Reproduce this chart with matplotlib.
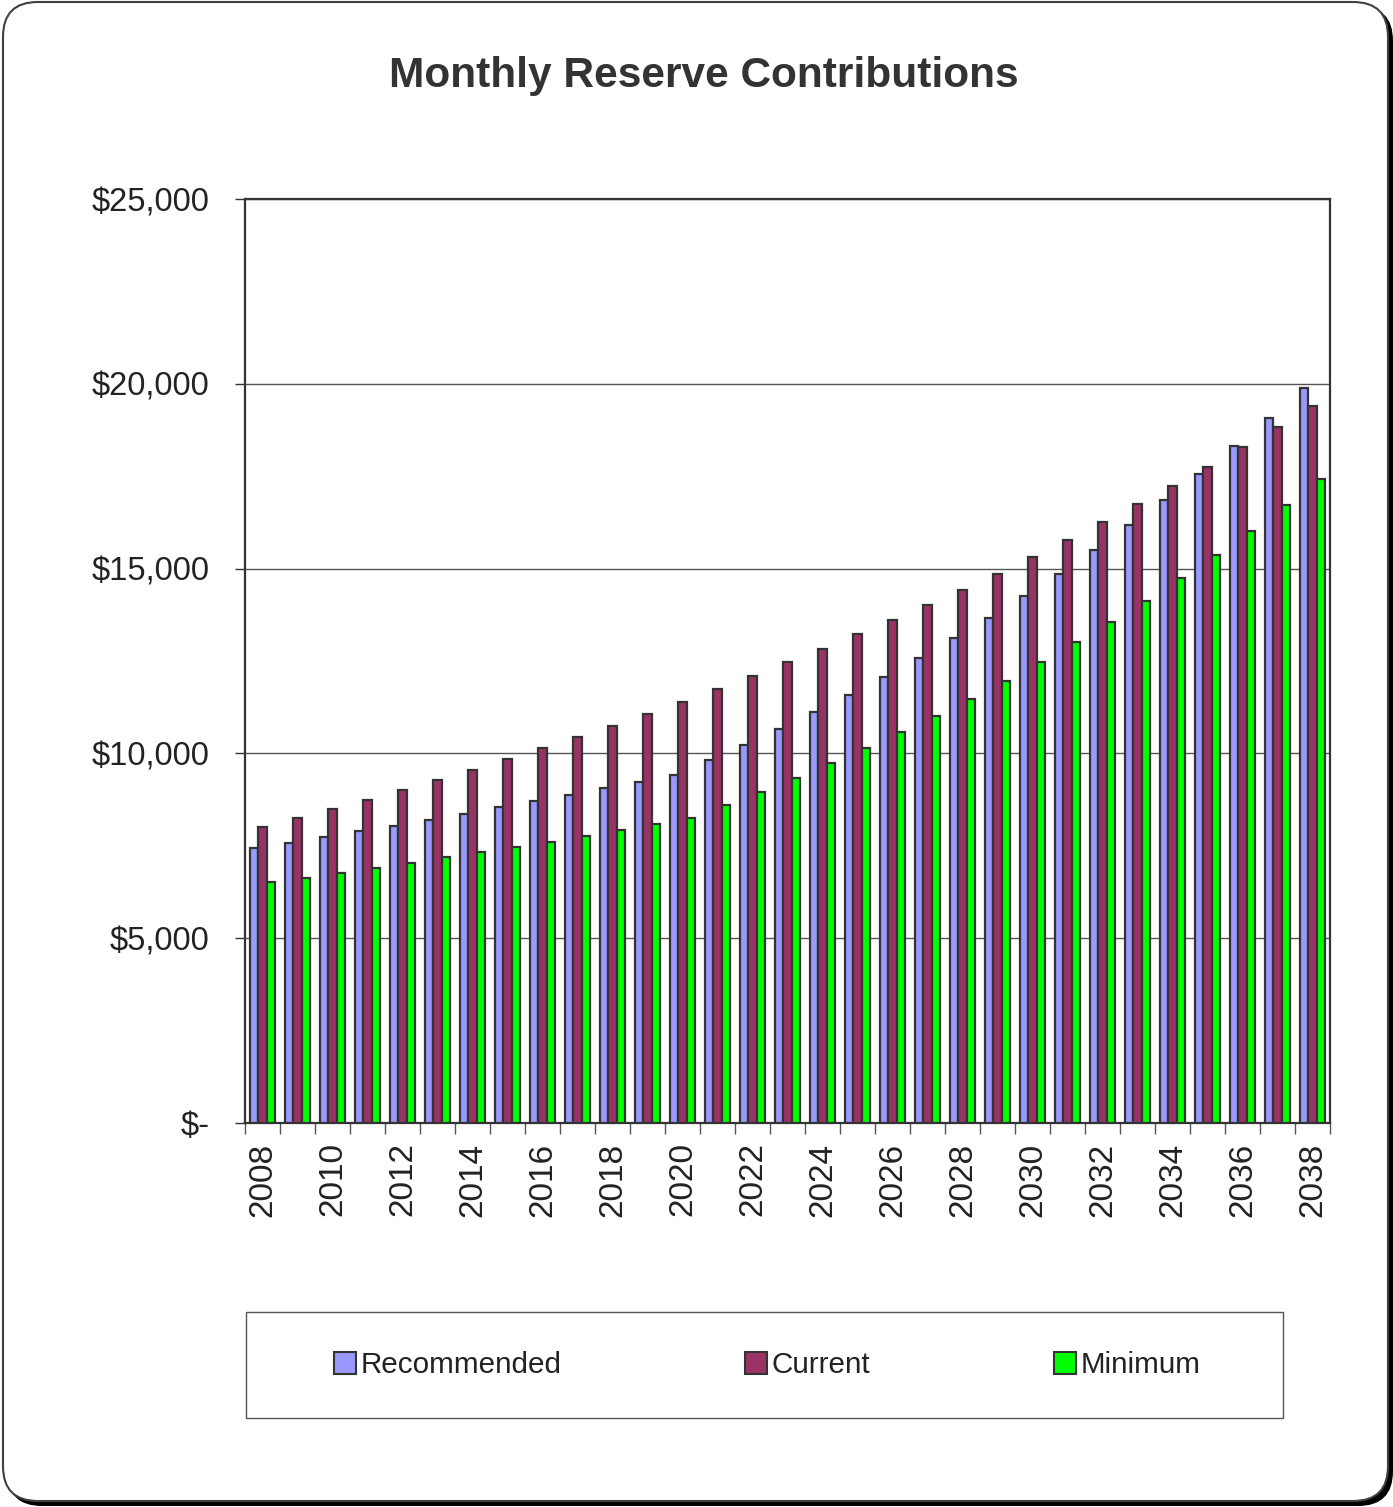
import matplotlib
matplotlib.use("Agg")
import matplotlib.pyplot as plt
from matplotlib.patches import FancyBboxPatch, Rectangle, Patch
import numpy as np

plt.rcParams['font.family'] = ['Liberation Sans', 'DejaVu Sans']

years = list(range(2008, 2039))
recommended = [7440, 7576, 7738, 7900, 8036, 8198, 8360, 8550, 8712, 8874,
               9064, 9226, 9416, 9821, 10227, 10660, 11120, 11580, 12067, 12581,
               13122, 13663, 14259, 14854, 15503, 16180, 16856, 17560, 18317, 19075,
               19886]
current = [8010, 8252, 8496, 8739, 9010, 9280, 9551, 9848, 10146, 10444,
           10741, 11066, 11390, 11742, 12094, 12473, 12825, 13230, 13609, 14015,
           14421, 14854, 15314, 15774, 16261, 16748, 17235, 17749, 18290, 18831,
           19399]
minimum = [6520, 6629, 6764, 6900, 7035, 7197, 7332, 7468, 7603, 7765,
           7927, 8090, 8252, 8604, 8956, 9334, 9740, 10146, 10579, 11012,
           11472, 11959, 12473, 13014, 13555, 14123, 14746, 15368, 16018, 16721,
           17424]
series_names = ["Recommended", "Current", "Minimum"]
colors = ["#9999FF", "#993366", "#00FF00"]
ytick_vals = [0, 5000, 10000, 15000, 20000, 25000]
ytick_labels = ["$-", "$5,000", "$10,000", "$15,000", "$20,000", "$25,000"]

W, H = 1393, 1507
fig = plt.figure(figsize=(W / 100, H / 100), dpi=100)

# outer rounded frame with shadow
shadow = FancyBboxPatch((7 / W, 1 - 1506 / H), (1386 / W), (1500 / H),
                        boxstyle="round,pad=0,rounding_size=0.025",
                        transform=fig.transFigure, facecolor="black",
                        edgecolor="none", zorder=0, mutation_aspect=W / H)
fig.patches.append(shadow)
frame = FancyBboxPatch((3 / W, 1 - 1501 / H), (1385 / W), (1499 / H),
                       boxstyle="round,pad=0,rounding_size=0.025",
                       transform=fig.transFigure, facecolor="white",
                       edgecolor="#404040", linewidth=1.5, zorder=1,
                       mutation_aspect=W / H)
fig.patches.append(frame)

ax = fig.add_axes([245 / W, 1 - 1123 / H, (1330 - 245) / W, (1123 - 199) / H])
ax.set_zorder(2)
ax.patch.set_alpha(0)

x = np.arange(len(years))
bw = 0.23
for i, (vals, c, n) in enumerate(zip([recommended, current, minimum], colors, series_names)):
    ax.bar(x + (i - 1) * bw, vals, width=bw, color=c, edgecolor="#333333",
           linewidth=1.6, label=n, zorder=3)

ax.set_xlim(-0.5, len(years) - 0.5)
ax.set_ylim(0, 25000)
ax.set_yticks(ytick_vals)
ax.set_yticklabels(ytick_labels, fontsize=23.5, color="#222222")
ax.yaxis.grid(True, color="#555555", linewidth=1.0, zorder=0)
ax.set_axisbelow(True)
ax.tick_params(axis='y', direction='out', length=7.5, width=1, color="#333333", pad=18)

ax.set_xticks(np.arange(-0.5, len(years), 1.0))
ax.set_xticklabels([])
ax.tick_params(axis='x', which='major', direction='out', length=8, width=1, color="#555555")
ax.set_xticks(x[::2], minor=True)
ax.set_xticklabels([str(y) for y in years[::2]], minor=True, rotation=90,
                   fontsize=24, color="#222222")
ax.tick_params(axis='x', which='minor', length=0, pad=14)

for s in ax.spines.values():
    s.set_color("#333333")
    s.set_linewidth(1.6)

fig.text(0.505, 1 - 76 / H, "Monthly Reserve Contributions", ha="center", va="center",
         fontsize=30.5, fontweight="bold", color="#333333")

# legend box
lx0, ly0, lx1, ly1 = 246, 1312, 1283, 1418
box = Rectangle((lx0 / W, 1 - ly1 / H), (lx1 - lx0) / W, (ly1 - ly0) / H,
                transform=fig.transFigure, facecolor="white", edgecolor="#555555",
                linewidth=1.0, zorder=2)
fig.patches.append(box)
handles = [Patch(facecolor=c, edgecolor="#333333", linewidth=1.5) for c in colors]
leg = fig.legend(handles, series_names, loc="center",
                 bbox_to_anchor=((lx0 + lx1) / 2 / W + 0.002, 1 - (ly0 + ly1) / 2 / H),
                 ncol=3, frameon=False, fontsize=21.3, handlelength=0.75,
                 handleheight=0.75, handletextpad=0.15, columnspacing=6.2)
for t in leg.get_texts():
    t.set_color("#222222")

fig.savefig("out.png", dpi=100)
